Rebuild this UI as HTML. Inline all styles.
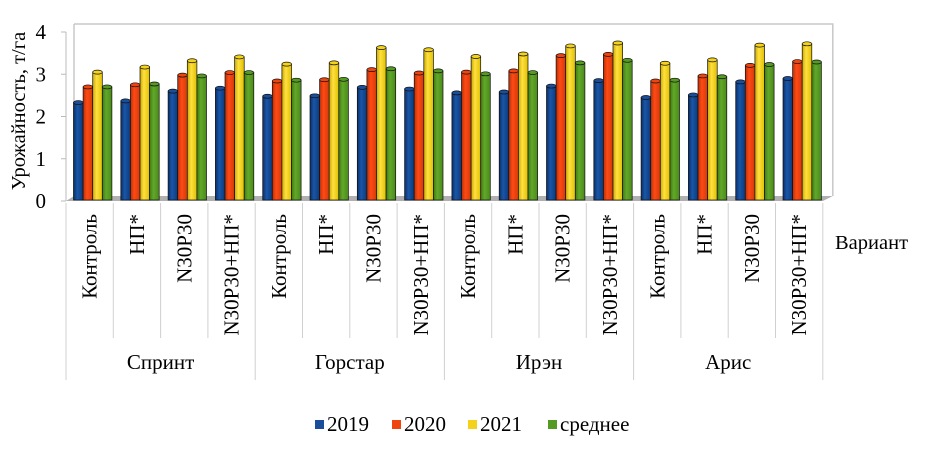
<!DOCTYPE html>
<html><head><meta charset="utf-8"><style>
body{margin:0;background:#fff;}
svg text{font-family:"Liberation Serif",serif;fill:#000;}
</style></head><body>
<svg id="chart" width="942" height="454" xmlns="http://www.w3.org/2000/svg">
<defs>
<linearGradient id="g0" x1="0" x2="1"><stop offset="0" stop-color="#0a2f66"/><stop offset="0.4" stop-color="#1a56a8"/><stop offset="1" stop-color="#0c3a7a"/></linearGradient>
<linearGradient id="g1" x1="0" x2="1"><stop offset="0" stop-color="#b83008"/><stop offset="0.4" stop-color="#ff4a14"/><stop offset="1" stop-color="#d23a0c"/></linearGradient>
<linearGradient id="g2" x1="0" x2="1"><stop offset="0" stop-color="#c9a800"/><stop offset="0.4" stop-color="#ffe040"/><stop offset="1" stop-color="#e0c000"/></linearGradient>
<linearGradient id="g3" x1="0" x2="1"><stop offset="0" stop-color="#3e7a14"/><stop offset="0.4" stop-color="#62a82a"/><stop offset="1" stop-color="#4a8a1a"/></linearGradient>
</defs>
<g id="frame"></g>
<g id="bars"></g>
<g id="labels"></g>
</svg>
<script>
const groups=["Спринт","Горстар","Ирэн","Арис"];
const variants=["Контроль","НП*","N30P30","N30P30+НП*"];
const seriesNames=["2019","2020","2021","среднее"];
const s2019=[2.33,2.37,2.6,2.67, 2.48,2.49,2.69,2.65, 2.56,2.58,2.72,2.85, 2.45,2.51,2.82,2.9];
const s2020=[2.7,2.75,2.98,3.04, 2.84,2.87,3.11,3.03, 3.05,3.08,3.44,3.47, 2.84,2.96,3.21,3.3];
const s2021=[3.05,3.17,3.32,3.41, 3.24,3.27,3.63,3.58, 3.42,3.48,3.67,3.74, 3.26,3.34,3.69,3.72];
const sAvg=[2.7,2.77,2.96,3.04, 2.86,2.88,3.13,3.08, 3.01,3.04,3.27,3.33, 2.86,2.94,3.23,3.29];
const yTicks=[0,1,2,3,4];
const series=[s2019,s2020,s2021,sAvg];
const colors=["#1a4e9a","#f0440e","#f5d21a","#559a22"];
const NS="http://www.w3.org/2000/svg";
const X0=66,CW=47.3,Y0=201,PU=42.25;
const xs=i=>X0+i*CW;
const ys=v=>Y0-v*PU;
function mk(tag,attrs,parent,txt){const e=document.createElementNS(NS,tag);for(const k in attrs)e.setAttribute(k,attrs[k]);if(txt!==undefined)e.textContent=txt;parent.appendChild(e);return e;}
const frame=document.getElementById('frame'),bars=document.getElementById('bars'),labels=document.getElementById('labels');
let w=mk('path',{d:`M${X0+8} ${ys(4)-8} L${xs(16)+10} ${ys(4)-8} L${xs(16)+10} ${Y0-5} M${X0+8} ${ys(4)-8} L${X0+8} ${Y0-5}`,fill:'none',stroke:'#c8c8c8','stroke-width':1.5},frame);

let fl=mk('path',{d:`M${X0} ${Y0} L${X0+8} ${Y0-5} L${xs(16)+10} ${Y0-5} L${xs(16)} ${Y0} Z`,fill:'#b0b0b0'},frame);

let ax=mk('line',{x1:X0,y1:ys(4),x2:X0,y2:Y0,stroke:'#bbb','stroke-width':1},frame);

yTicks.forEach(t=>{
  let tl=mk('line',{x1:X0-5,y1:ys(t),x2:X0,y2:ys(t),stroke:'#bbb'},frame);
  
  let tx=mk('text',{x:X0-20,y:ys(t)+7,'text-anchor':'end','font-size':21},labels,String(t));
  
});
let yt=mk('text',{x:0,y:0,'font-size':20.5,'text-anchor':'middle',transform:'translate(25,111) rotate(-90)'},labels,'Урожайность, т/га');

const BW=9.6;
for(let i=0;i<16;i++){
  for(let s=0;s<4;s++){
    const v=series[s][i];const x=xs(i)+7.5+s*BW;const top=ys(v);
    const g=mk('g',{},bars);
    
    mk('rect',{x:x,y:top,width:BW,height:Y0-top-1,fill:`url(#g${s})`,stroke:'#111','stroke-width':0.7},g);
    mk('ellipse',{cx:x+BW/2,cy:top,rx:BW/2,ry:2,fill:colors[s],stroke:'#111','stroke-width':0.7},g);
  }
}
for(let i=0;i<=16;i++){
  const big=i%4===0;
  let l=mk('line',{x1:xs(i),y1:203,x2:xs(i),y2:big?380:338,stroke:'#d0d0d0'},frame);
  
}
for(let i=0;i<16;i++){
  const cx=xs(i)+CW/2+7;
  let t=mk('text',{x:0,y:0,'font-size':21,'text-anchor':'end',transform:`translate(${cx},214) rotate(-90)`},labels,variants[i%4]);
  
}
groups.forEach((g,k)=>{
  let t=mk('text',{x:xs(k*4)+2*CW,y:369,'font-size':21,'text-anchor':'middle'},labels,g);
  
});
let xt=mk('text',{x:835,y:249,'font-size':20.5},labels,'Вариант');

const lx=[315,392,468,548];
seriesNames.forEach((n,s)=>{
  const g=mk('g',{},labels);
  
  mk('rect',{x:lx[s],y:420,width:9,height:9,fill:colors[s]},g);
  mk('text',{x:lx[s]+12,y:431,'font-size':21},g,n);
});
</script>
</body></html>
